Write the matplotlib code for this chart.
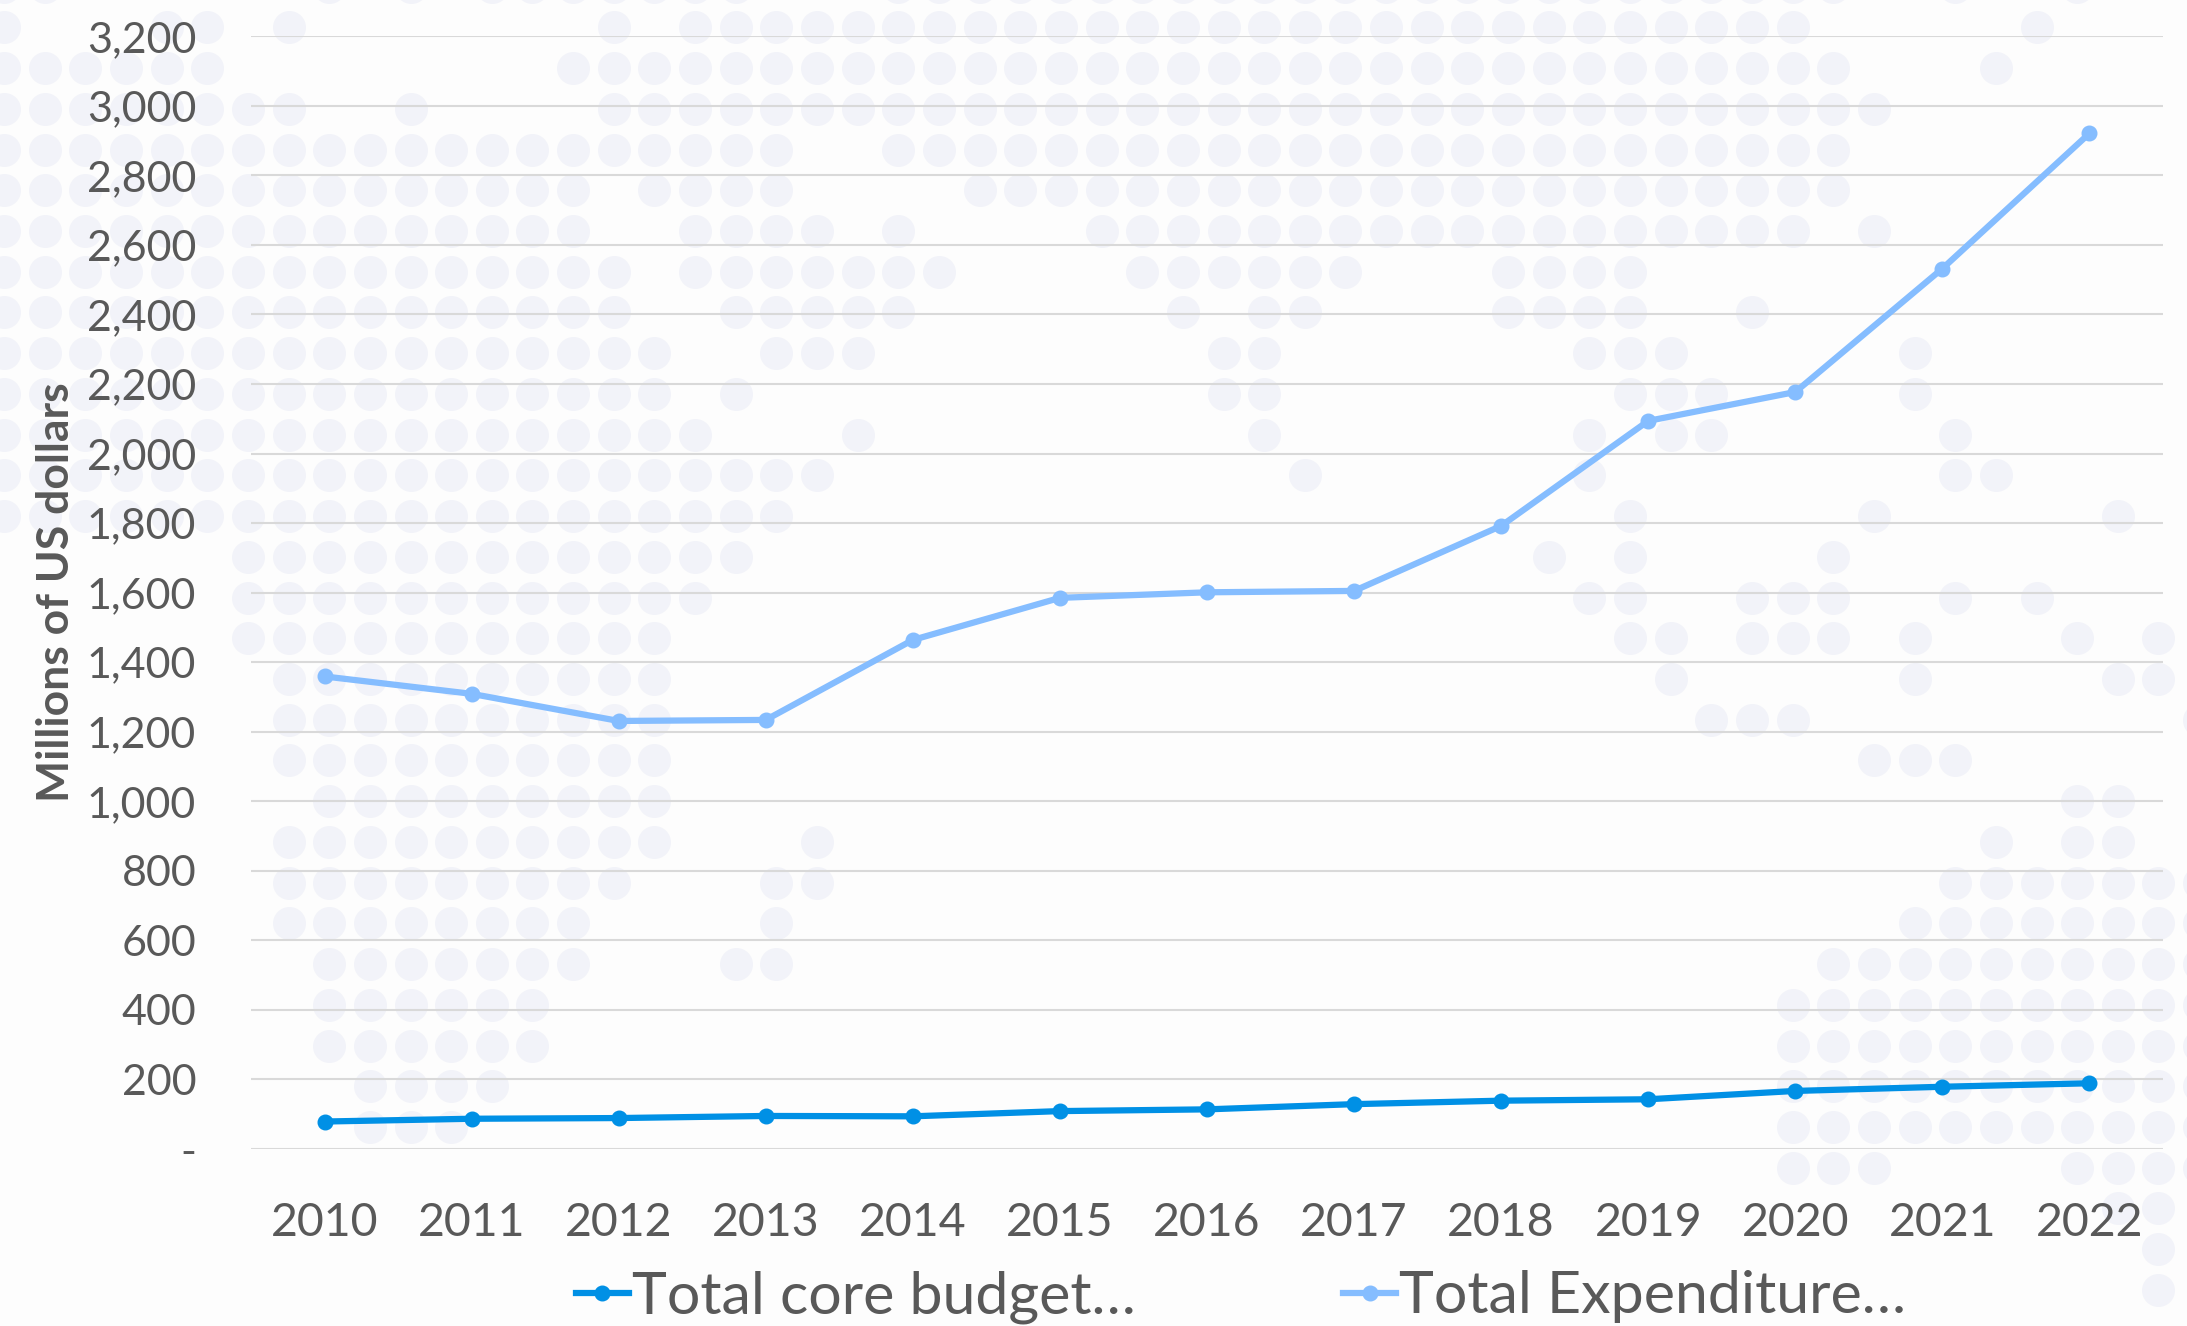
import matplotlib
matplotlib.use("Agg")
import matplotlib.pyplot as plt
from matplotlib.ticker import FuncFormatter

years = [2010, 2011, 2012, 2013, 2014, 2015, 2016, 2017, 2018, 2019, 2020, 2021, 2022]
core_budget = [79, 87, 89, 95, 94, 109, 114, 129, 139, 143, 167, 179, 189]
total_expenditure = [1359, 1309, 1231, 1234, 1464, 1585, 1601, 1605, 1792, 2094, 2177, 2532, 2921]
y_ticks = list(range(0, 3201, 200))

# background dot map: filled column spans for every row of the dot grid
map_rows = [
    [(0, 1), (8, 8), (10, 10), (12, 18), (22, 45), (48, 48), (51, 51)],
    [(0, 0), (4, 5), (7, 7), (15, 15), (17, 44), (50, 50)],
    [(0, 5), (14, 45), (49, 49)],
    [(0, 7), (10, 10), (15, 46)],
    [(0, 19), (22, 45)],
    [(0, 14), (16, 19), (24, 45)],
    [(0, 14), (17, 20), (22, 22), (27, 44), (46, 46)],
    [(0, 15), (17, 23), (28, 33), (37, 40)],
    [(0, 15), (18, 22), (29, 29), (31, 32), (37, 40), (43, 43)],
    [(0, 16), (19, 21), (30, 31), (39, 41), (47, 47)],
    [(0, 16), (18, 18), (30, 31), (40, 42), (47, 47)],
    [(0, 17), (21, 21), (31, 31), (39, 39), (41, 42), (48, 48)],
    [(0, 20), (32, 32), (39, 39), (48, 49)],
    [(0, 19), (40, 40), (46, 46), (52, 52)],
    [(6, 18), (38, 38), (40, 40), (45, 45)],
    [(6, 17), (39, 40), (43, 45), (48, 48), (50, 50)],
    [(6, 16), (40, 41), (43, 45), (47, 47), (51, 51), (53, 53)],
    [(7, 16), (41, 41), (47, 47), (52, 53)],
    [(7, 16), (42, 44), (54, 54)],
    [(7, 16), (46, 48)],
    [(8, 16), (51, 52)],
    [(7, 16), (20, 20), (49, 49), (51, 52)],
    [(7, 15), (19, 20), (48, 54)],
    [(7, 14), (19, 19), (47, 54)],
    [(8, 14), (18, 19), (45, 54)],
    [(8, 13), (44, 54)],
    [(8, 13), (44, 54)],
    [(9, 12), (44, 54)],
    [(9, 11), (44, 54)],
    [(44, 46), (51, 54)],
    [(52, 53)],
    [(53, 53)],
    [(53, 53)],
]

W, H = 2187, 1326
text_color = "#595959"
plt.rcParams["font.family"] = ["Lato", "DejaVu Sans"]

fig = plt.figure(figsize=(W / 100, H / 100), dpi=100, facecolor="#FDFDFD")

# dot layer, in pixel coordinates
bg = fig.add_axes([0, 0, 1, 1])
bg.set_xlim(0, W)
bg.set_ylim(H, 0)
bg.axis("off")
dot_x = []
dot_y = []
for r, spans in enumerate(map_rows):
    for start, end in spans:
        for k in range(start, end + 1):
            dot_x.append(4.0 + 40.65 * k)
            dot_y.append(-13.4 + 40.73 * r)
bg.scatter(dot_x, dot_y, s=565, color="#F2F3F9", linewidths=0)

# chart layer
ax = fig.add_axes([251 / W, (H - 1149) / H, 1912 / W, 1112.7 / H])
ax.patch.set_alpha(0)
ax.plot(years, core_budget, color="#0090E5", lw=4.5, marker="o", ms=10.5, label="Total core budget…", zorder=3)
ax.plot(years, total_expenditure, color="#85BDFF", lw=4.5, marker="o", ms=10.5, label="Total Expenditure…", zorder=3)

ax.set_xlim(2009.5, 2022.5)
ax.set_ylim(0, 3200)
ax.set_xticks(years)
ax.set_yticks(y_ticks)
ax.yaxis.set_major_formatter(FuncFormatter(lambda v, pos: "-" if v == 0 else f"{int(v):,}"))
ax.tick_params(axis="x", length=0, pad=38, labelsize=33.5, labelcolor=text_color)
ax.tick_params(axis="y", length=0, pad=39.5, labelsize=31, labelcolor=text_color)
ax.grid(axis="y", color="#D9D9D9", lw=1.5)
ax.set_axisbelow(True)
for side in ax.spines:
    ax.spines[side].set_visible(False)

ax.set_ylabel("Millions of US dollars", fontsize=32, fontweight="bold", color=text_color)
ax.yaxis.set_label_coords(-0.0917, 0.5)

fig.legend(loc="center", bbox_to_anchor=(1241 / W, (H - 1297) / H), ncol=2, frameon=False,
           fontsize=42.6, labelcolor=text_color, handlelength=0.9, handletextpad=0.05,
           columnspacing=3.5, borderpad=0, borderaxespad=0)

fig.savefig("out.png", dpi=100, facecolor=fig.get_facecolor())
